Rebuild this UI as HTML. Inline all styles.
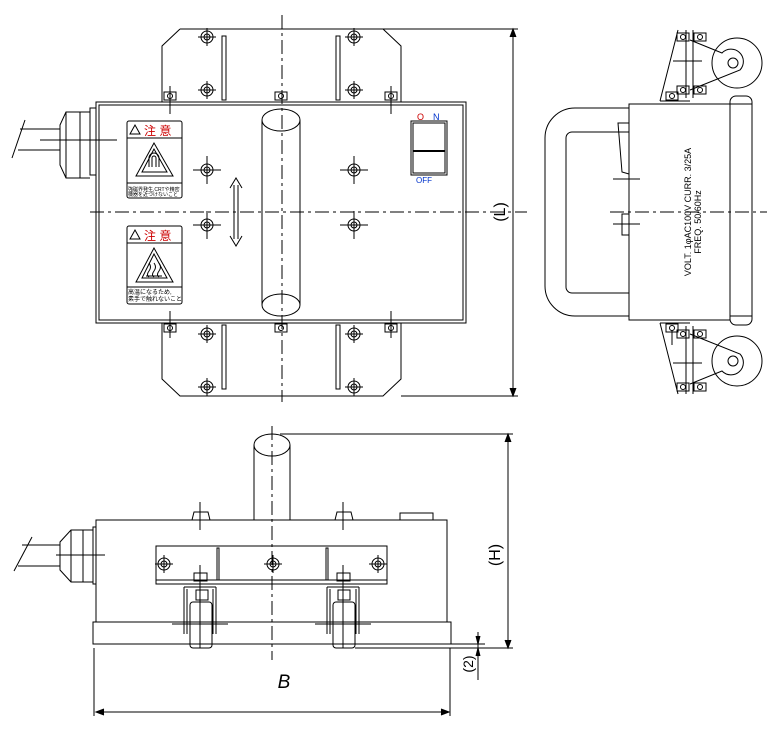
<!DOCTYPE html>
<html><head><meta charset="utf-8"><style>
body{margin:0;background:#fff}
svg{display:block}
text{font-family:"Liberation Sans","Noto Sans CJK JP",sans-serif}
</style></head><body>
<svg width="780" height="730" viewBox="0 0 780 730" xmlns="http://www.w3.org/2000/svg">
<defs>
<g id="bolt"><circle r="6" fill="none" stroke="#000"/><circle r="3" fill="none" stroke="#000"/><line x1="-9" y1="0" x2="9" y2="0" stroke="#000"/><line x1="0" y1="-9" x2="0" y2="9" stroke="#000"/></g>
<g id="bolt2"><circle r="6" fill="none" stroke="#000"/><circle r="3" fill="none" stroke="#000"/><line x1="-14" y1="0" x2="14" y2="0" stroke="#000"/><line x1="0" y1="-14" x2="0" y2="14" stroke="#000"/></g>
<g id="clip"><rect x="-6" y="-4" width="12" height="8" fill="none" stroke="#000"/><circle r="2.5" fill="none" stroke="#000"/></g>
</defs>
<g fill="none" stroke="#000" stroke-width="1">
<!-- TOP VIEW plates -->
<path d="M180 29 H383 L401 46 V102 M162 102 V46 L180 29"/>
<path d="M162 323 V379 L180 396 H383 L401 379 V323"/>
<rect x="222" y="36" width="4" height="64"/><rect x="336" y="36" width="4" height="64"/>
<rect x="222" y="325" width="4" height="64"/><rect x="336" y="325" width="4" height="64"/>
<use href="#bolt" x="207" y="37"/><use href="#bolt" x="354" y="37"/>
<use href="#bolt" x="207" y="90"/><use href="#bolt" x="354" y="90"/>
<use href="#bolt" x="207" y="334"/><use href="#bolt" x="354" y="334"/>
<use href="#bolt" x="207" y="387"/><use href="#bolt" x="354" y="387"/>
<!-- body -->
<rect x="96" y="102" width="370" height="221"/>
<rect x="99" y="105" width="364" height="215"/>
<use href="#clip" x="170" y="96"/><use href="#clip" x="281" y="96"/><use href="#clip" x="391" y="96"/>
<use href="#clip" x="170" y="328"/><use href="#clip" x="281" y="328"/><use href="#clip" x="391" y="328"/>
<line x1="170" y1="86" x2="170" y2="114"/><line x1="391" y1="86" x2="391" y2="114"/>
<line x1="170" y1="311" x2="170" y2="338"/><line x1="391" y1="311" x2="391" y2="338"/>
<use href="#bolt2" x="207" y="170"/><use href="#bolt2" x="354" y="170"/>
<use href="#bolt2" x="207" y="225"/><use href="#bolt2" x="354" y="225"/>
<!-- handle cylinder -->
<path d="M262 120 V305 M300 120 V305"/>
<ellipse cx="281" cy="120" rx="19" ry="11"/>
<path d="M262 305 A19 11 0 0 0 300 305 M262 305 A19 11 0 0 1 300 305"/>
<!-- double arrow -->
<path d="M234 185 V239 M238 185 V239 M230 188 L236 178 L242 188 M230 236 L236 246 L242 236"/>
<!-- labels -->
<rect x="127" y="121" width="55" height="77" rx="2"/><line x1="127" y1="138" x2="182" y2="138"/><line x1="127" y1="183" x2="182" y2="183"/>
<path d="M154 143 L136 176 H173 Z"/><path d="M154 149 L142 172 H167 Z"/>
<path d="M149 167 V158 A5 5 0 0 1 159 158 V167 M152 167 V158 A2 2 0 0 1 156 158 V167"/>
<rect x="127" y="226" width="55" height="78" rx="2"/><line x1="127" y1="243" x2="182" y2="243"/><line x1="127" y1="287" x2="182" y2="287"/>
<path d="M154 248 L136 282 H173 Z"/><path d="M154 254 L142 278 H167 Z"/>
<path d="M149 263 q3 4 0 8 q-3 4 0 6 M154 263 q3 4 0 8 q-3 4 0 6 M159 263 q3 4 0 8 q-3 4 0 6 M146 276 H162"/>
<path d="M130 134 L135 125 L140 134 Z"/><path d="M130 239 L135 230 L140 239 Z"/>
<!-- switch -->
<rect x="411" y="121" width="36" height="54"/><rect x="413" y="123" width="32" height="50"/><line x1="413" y1="151" x2="445" y2="151" stroke-width="2"/>
<!-- cable gland top -->
<path d="M96 108 H90 V175 H96 M90 112 H66 L60 125 V165 L66 178 H90 M66 112 V178 M80 112 V178"/>
<path d="M60 129 H20 M60 150 H18 M25 120 L12 158"/>
<line x1="40" y1="140" x2="117" y2="140"/>
<!-- centerlines top -->
<line x1="282" y1="15" x2="282" y2="402" stroke-dasharray="14,4,3,4"/>
<line x1="90" y1="212" x2="527" y2="212" stroke-dasharray="14,4,3,4"/>
<!-- L dim -->
<path d="M383 29 H518 M401 396 H518 M513 29 V396"/>
<path d="M510 37 L513 29 L516 37 M510 388 L513 396 L516 388" fill="#000"/>

<!-- SIDE VIEW -->
<rect x="629" y="104" width="101" height="216"/>
<path d="M629 108 H575 A30 30 0 0 0 545 138 V286 A30 30 0 0 0 575 316 H629"/>
<path d="M629 132 H572 A6 6 0 0 0 566 138 V287 A6 6 0 0 0 572 293 H629"/>
<path d="M629 123 H618 L622 172 L629 174 M629 214 H622 V235 H629"/>
<rect x="730" y="96" width="22" height="229" rx="6"/>
<line x1="730" y1="104" x2="752" y2="104"/><line x1="730" y1="316" x2="752" y2="316"/>
<circle cx="737" cy="63" r="25"/><circle cx="733" cy="63" r="5"/>
<path d="M690 40 L722 53 A10 10 0 0 1 740 70 L690 90"/>
<path d="M686 30 V98 M693 30 V98 M660 101 L678 30 M660 101 H690"/>
<use href="#clip" x="683" y="37"/><use href="#clip" x="700" y="37"/><use href="#clip" x="683" y="90"/><use href="#clip" x="700" y="90"/><use href="#clip" x="672" y="96"/>
<circle cx="737" cy="361" r="25"/><circle cx="733" cy="361" r="5"/>
<path d="M690 384 L722 371 A10 10 0 0 0 740 354 L690 334"/>
<path d="M686 394 V326 M693 394 V326 M660 323 L678 394 M660 323 H690"/>
<use href="#clip" x="683" y="387"/><use href="#clip" x="700" y="387"/><use href="#clip" x="683" y="334"/><use href="#clip" x="700" y="334"/><use href="#clip" x="672" y="328"/>
<line x1="610" y1="212" x2="767" y2="212" stroke-dasharray="14,4,3,4"/>
<path d="M613 179 H640 M613 224 H640 M673 61 H702 M673 363 H702 M672 330 V345"/>

<!-- FRONT VIEW -->
<rect x="96" y="520" width="351" height="102"/>
<rect x="93" y="622" width="358" height="22"/>
<path d="M254 520 V445 M290 520 V445"/><ellipse cx="272" cy="445" rx="18" ry="11"/>
<rect x="156" y="546" width="231" height="38"/><line x1="156" y1="580" x2="387" y2="580"/>
<use href="#bolt" x="164" y="564"/><use href="#bolt" x="273" y="564"/><use href="#bolt" x="378" y="564"/>
<rect x="217" y="548" width="2" height="32"/><rect x="326" y="548" width="2" height="32"/>
<path d="M192 520 L194 512 H208 L210 520 M335 520 L337 512 H351 L353 520 M400 520 V513 H433 V520"/>
<path d="M184 587 V634 M187 589 V634 M216 587 V634 M213 589 V634 M184 587 H216"/>
<path d="M327 587 V634 M330 589 V634 M359 587 V634 M356 589 V634 M327 587 H359"/>
<rect x="194" y="573" width="13" height="8"/><rect x="337" y="573" width="13" height="8"/>
<rect x="196" y="590" width="12" height="10"/><rect x="338" y="590" width="12" height="10"/>
<rect x="190" y="602" width="22" height="46" rx="3"/><rect x="333" y="602" width="22" height="46" rx="3"/>
<path d="M172 624 H228 M315 624 H371"/>
<path d="M200 502 V530 M343 502 V530 M200 565 V648 M343 565 V648"/>
<path d="M96 527 H93 V584 H96 M93 530 H71 L60 542 V570 L71 582 H93 M71 530 V582 M83 530 V582"/>
<path d="M60 545 H22 M60 566 H18 M32 537 L14 571 M56 555 H105"/>
<line x1="272" y1="426" x2="272" y2="660" stroke-dasharray="14,4,3,4"/>
<!-- H dim -->
<path d="M280 434 H513 M355 648 H513 M508 434 V648"/>
<path d="M505 442 L508 434 L511 442 M505 640 L508 648 L511 640" fill="#000"/>
<path d="M451 644 H485 M478 632 V680"/>
<path d="M476 636 L478 644 L480 636 M476 656 L478 648 L480 656" fill="#000"/>
<!-- B dim -->
<path d="M94 648 V716 M450 648 V716 M96 712 H449"/>
<path d="M104 709 L96 712 L104 715 M441 709 L449 712 L441 715" fill="#000"/>
</g>
<g font-size="12">
<text x="144" y="135" fill="#c00" font-size="12">注 意</text>
<text x="144" y="240" fill="#c00" font-size="12">注 意</text>
<text x="128" y="191" font-size="5" fill="#000">強磁界発生,CRTや精密</text>
<text x="128" y="196" font-size="5" fill="#000">機器を近づけないこと</text>
<text x="128" y="294" font-size="6" fill="#000">高温になるため,</text>
<text x="128" y="301" font-size="6" fill="#000">素手で触れないこと</text>
<text x="417" y="120" font-size="9" fill="#c00">O</text>
<text x="433" y="120" font-size="9" fill="#03c">N</text>
<text x="416" y="183" font-size="8" fill="#03c">OFF</text>
<text transform="translate(505 212) rotate(-90)" text-anchor="middle" font-size="16" fill="#000">(L)</text>
<text transform="translate(691 212) rotate(-90)" text-anchor="middle" font-size="9" fill="#000">VOLT. 1φAC100V  CURR. 3/25A</text>
<text transform="translate(701 222) rotate(-90)" text-anchor="middle" font-size="9" fill="#000">FREQ.  50/60Hz</text>
<text transform="translate(500 555) rotate(-90)" text-anchor="middle" font-size="16" fill="#000">(H)</text>
<text transform="translate(473 664) rotate(-90)" text-anchor="middle" font-size="14" fill="#000">(2)</text>
<text x="284" y="688" text-anchor="middle" font-size="19" font-style="italic" fill="#000">B</text>
</g>
</svg>
</body></html>
